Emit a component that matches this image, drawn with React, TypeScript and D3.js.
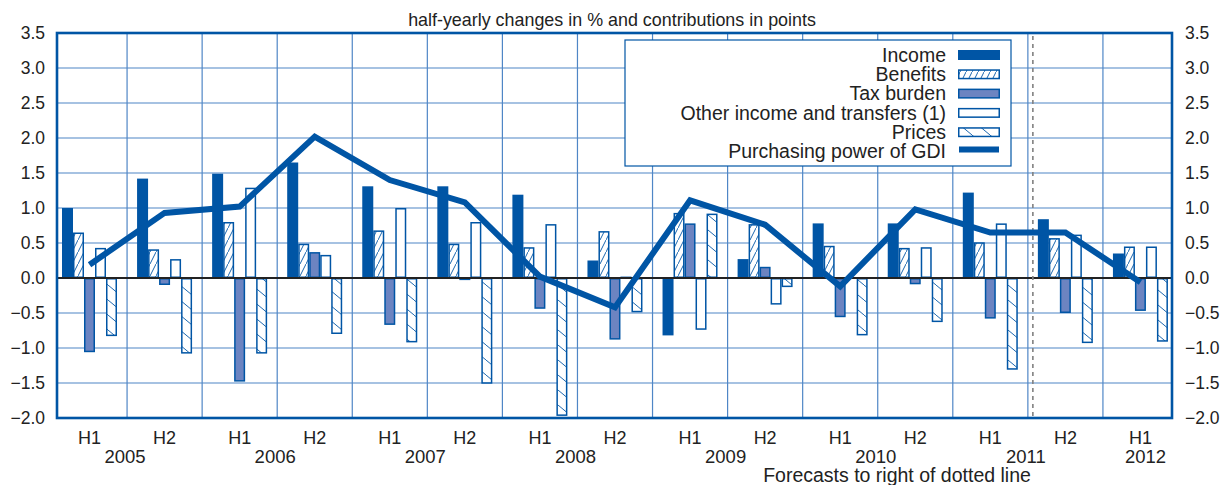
import React, { useEffect, useRef } from 'react';
import * as d3 from 'd3';

const periods = ["H1", "H2", "H1", "H2", "H1", "H2", "H1", "H2", "H1", "H2", "H1", "H2", "H1", "H2", "H1"];
const years = ["2005", "2005", "2006", "2006", "2007", "2007", "2008", "2008", "2009", "2009", "2010", "2010", "2011", "2011", "2012"];
const yTicks = [-2.0, -1.5, -1.0, -0.5, 0.0, 0.5, 1.0, 1.5, 2.0, 2.5, 3.0, 3.5];

const income = [1.0, 1.42, 1.49, 1.65, 1.31, 1.31, 1.19, 0.25, -0.82, 0.27, 0.78, 0.78, 1.22, 0.84, 0.35];
const benefits = [0.65, 0.41, 0.8, 0.49, 0.68, 0.49, 0.44, 0.67, 0.93, 0.77, 0.46, 0.43, 0.51, 0.57, 0.45];
const taxBurden = [-1.06, -0.1, -1.48, 0.37, -0.67, -0.03, -0.44, -0.88, 0.78, 0.16, -0.56, -0.09, -0.58, -0.5, -0.47];
const otherIncome = [0.43, 0.27, 1.29, 0.33, 1.0, 0.8, 0.77, 0.02, -0.74, -0.38, 0, 0.44, 0.78, 0.62, 0.45];
const prices = [-0.83, -1.08, -1.08, -0.8, -0.92, -1.51, -1.97, -0.49, 0.92, -0.13, -0.82, -0.63, -1.31, -0.93, -0.91];
const purchasingPower = [0.19, 0.93, 1.02, 2.02, 1.4, 1.08, 0.02, -0.42, 1.11, 0.76, -0.12, 0.98, 0.65, 0.65, -0.06];

const seriesNames = ["Income", "Benefits", "Tax burden", "Other income and transfers (1)", "Prices"];
const lineName = "Purchasing power of GDI";
const title = "half-yearly changes in % and contributions in points";
const forecastNote = "Forecasts to right of dotted line";

const BLUE = "#0055a5";
const TAX = "#6c84c1";
const GRID = "#4f86c6";
const FONT = "'Liberation Sans', Arial, sans-serif";

const App = () => {
  const svgRef = useRef<SVGSVGElement>(null);

  useEffect(() => {
    if (!svgRef.current) return;
    const svg = d3.select(svgRef.current);
    svg.selectAll("*").remove();

    const W = 1221, H = 485;
    const plot = { left: 57, right: 1172, top: 33, bottom: 418 };
    svg.attr("width", W).attr("height", H);

    const keys = periods.map((p, i) => `${years[i]}-${p}`);
    const x = d3.scaleBand().domain(keys).range([52, 1178]);
    const inner = d3.scaleBand().domain(seriesNames).range([10, 65]);
    const y = d3.scaleLinear().domain([-2, 3.5]).range([plot.bottom, plot.top]);

    // Patterns
    const defs = svg.append("defs");
    const pUp = defs.append("pattern").attr("id", "hatchUp")
      .attr("patternUnits", "userSpaceOnUse").attr("width", 6).attr("height", 12);
    pUp.append("rect").attr("width", 6).attr("height", 12).attr("fill", "white");
    pUp.append("path").attr("d", "M-1,14 L7,-2").attr("stroke", BLUE).attr("stroke-width", 0.9);

    const pDown = defs.append("pattern").attr("id", "hatchDown")
      .attr("patternUnits", "userSpaceOnUse").attr("width", 18).attr("height", 15);
    pDown.append("rect").attr("width", 18).attr("height", 15).attr("fill", "white");
    pDown.append("path").attr("d", "M0,0 L18,15 M-18,0 L0,15 M18,0 L36,15")
      .attr("stroke", BLUE).attr("stroke-width", 0.9);

    const styles = [
      { fill: BLUE, stroke: "none" },
      { fill: "url(#hatchUp)", stroke: BLUE },
      { fill: TAX, stroke: BLUE },
      { fill: "white", stroke: BLUE },
      { fill: "url(#hatchDown)", stroke: BLUE },
    ];
    const seriesData = [income, benefits, taxBurden, otherIncome, prices];

    // Gridlines
    svg.append("g").selectAll("line")
      .data(yTicks.filter(t => t > -2 && t < 3.5 && t !== 0))
      .enter().append("line")
      .attr("x1", plot.left).attr("x2", plot.right)
      .attr("y1", d => y(d)).attr("y2", d => y(d))
      .attr("stroke", GRID).attr("stroke-width", 1.2);

    svg.append("g").selectAll("line")
      .data(keys.slice(1))
      .enter().append("line")
      .attr("x1", d => x(d)!).attr("x2", d => x(d)!)
      .attr("y1", plot.top).attr("y2", plot.bottom)
      .attr("stroke", GRID).attr("stroke-width", 1.2);

    // Bars
    seriesData.forEach((vals, si) => {
      const st = styles[si];
      const sw = st.stroke === "none" ? 0 : 1.5;
      svg.append("g").selectAll("rect")
        .data(vals.map((v, i) => ({ v, k: keys[i] })).filter(d => Math.abs(d.v) > 0.005))
        .enter().append("rect")
        .attr("x", d => x(d.k)! + inner(seriesNames[si])! + sw / 2)
        .attr("width", inner.bandwidth() - sw)
        .attr("y", d => Math.min(y(d.v), y(0)) + sw / 2)
        .attr("height", d => Math.max(Math.abs(y(d.v) - y(0)) - sw, 0.5))
        .attr("fill", st.fill)
        .attr("stroke", st.stroke)
        .attr("stroke-width", sw);
    });

    // Zero line
    svg.append("line")
      .attr("x1", plot.left).attr("x2", plot.right)
      .attr("y1", y(0)).attr("y2", y(0))
      .attr("stroke", "#222").attr("stroke-width", 2);

    // Forecast divider
    const divX = x(keys[13])! + 5;
    svg.append("line")
      .attr("x1", divX).attr("x2", divX)
      .attr("y1", plot.top + 3).attr("y2", plot.bottom)
      .attr("stroke", "#808080").attr("stroke-width", 1.6)
      .attr("stroke-dasharray", "4,4");

    // Purchasing power line
    const line = d3.line<number>()
      .x((_, i) => x(keys[i])! + x.bandwidth() / 2)
      .y(d => y(d));
    svg.append("path")
      .datum(purchasingPower)
      .attr("d", line)
      .attr("fill", "none")
      .attr("stroke", BLUE)
      .attr("stroke-width", 6)
      .attr("stroke-linejoin", "miter");

    // Frame
    svg.append("rect")
      .attr("x", plot.left).attr("y", plot.top)
      .attr("width", plot.right - plot.left).attr("height", plot.bottom - plot.top)
      .attr("fill", "none").attr("stroke", BLUE).attr("stroke-width", 2.6);

    // Y tick labels (both sides)
    const fmt = d3.format(".1f");
    svg.append("g").selectAll("text")
      .data(yTicks).enter().append("text")
      .attr("x", 45).attr("y", d => y(d)).attr("dy", "0.36em")
      .attr("text-anchor", "end")
      .style("font-family", FONT).style("font-size", "17.5px").attr("fill", "#222")
      .text(d => fmt(d));
    svg.append("g").selectAll("text")
      .data(yTicks).enter().append("text")
      .attr("x", 1185).attr("y", d => y(d)).attr("dy", "0.36em")
      .attr("text-anchor", "start")
      .style("font-family", FONT).style("font-size", "17.5px").attr("fill", "#222")
      .text(d => fmt(d));

    // X labels
    svg.append("g").selectAll("text")
      .data(keys).enter().append("text")
      .attr("x", d => x(d)! + x.bandwidth() / 2)
      .attr("y", 444)
      .attr("text-anchor", "middle")
      .style("font-family", FONT).style("font-size", "18px").attr("fill", "#222")
      .text((_, i) => periods[i]);

    const yearList = Array.from(new Set(years));
    svg.append("g").selectAll("text")
      .data(yearList).enter().append("text")
      .attr("x", yr => {
        const idx = years.map((v, i) => v === yr ? i : -1).filter(i => i >= 0);
        const xs = idx.map(i => x(keys[i])! + x.bandwidth() / 2);
        return idx.length > 1 ? d3.mean(xs)! - 2 : xs[0] + 5;
      })
      .attr("y", 463)
      .attr("text-anchor", "middle")
      .style("font-family", FONT).style("font-size", "18.5px").attr("fill", "#222")
      .text(d => d);

    svg.append("text")
      .attr("x", 897).attr("y", 482)
      .attr("text-anchor", "middle")
      .style("font-family", FONT).style("font-size", "19.5px").attr("fill", "#222")
      .text(forecastNote);

    // Title
    svg.append("text")
      .attr("x", 612).attr("y", 26)
      .attr("text-anchor", "middle")
      .style("font-family", FONT).style("font-size", "17.9px").attr("fill", "#222")
      .text(title);

    // Legend
    const lg = svg.append("g");
    lg.append("rect")
      .attr("x", 625).attr("y", 40).attr("width", 386).attr("height", 126)
      .attr("fill", "white").attr("stroke", BLUE).attr("stroke-width", 1.2);
    const legendItems = [...seriesNames, lineName];
    legendItems.forEach((name, i) => {
      const cy = 55 + i * 19.3;
      lg.append("text")
        .attr("x", 946).attr("y", cy).attr("dy", "0.35em")
        .attr("text-anchor", "end")
        .style("font-family", FONT).style("font-size", "19.5px").attr("fill", "#222")
        .text(name);
      if (i < 5) {
        const st = styles[i];
        const sw = st.stroke === "none" ? 0 : 1.5;
        lg.append("rect")
          .attr("x", 958 + sw / 2).attr("y", cy - 5 + sw / 2)
          .attr("width", 42 - sw).attr("height", 10 - sw)
          .attr("fill", st.fill).attr("stroke", st.stroke).attr("stroke-width", sw);
      } else {
        lg.append("line")
          .attr("x1", 959).attr("x2", 999)
          .attr("y1", cy - 2).attr("y2", cy - 2)
          .attr("stroke", BLUE).attr("stroke-width", 6);
      }
    });
  }, []);

  return (
    <div style={{ position: 'absolute', left: 0, top: 0, width: 1221, height: 485, background: 'white' }}>
      <svg ref={svgRef} style={{ display: 'block' }} />
    </div>
  );
};

export default App;
